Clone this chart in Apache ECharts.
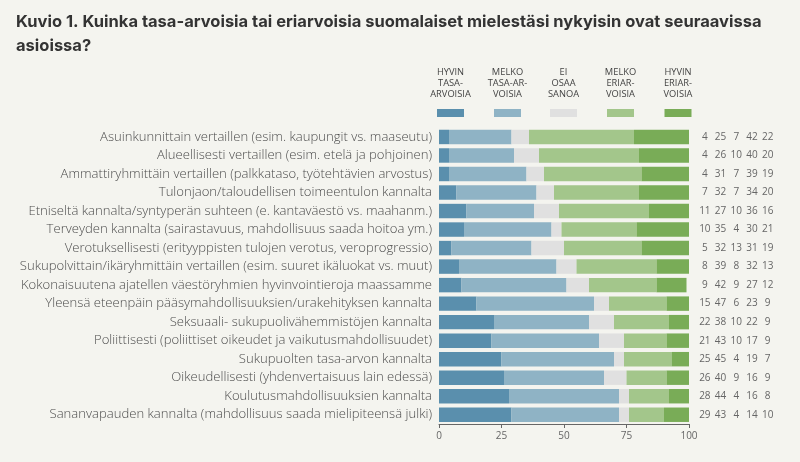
<!DOCTYPE html>
<html>
<head>
<meta charset="utf-8">
<script src="https://cdn.jsdelivr.net/npm/echarts@6/dist/echarts.min.js"></script>
<style>
  html, body { margin: 0; padding: 0; background: #f4f4ef; }
  #main { width: 800px; height: 462px; }
</style>
</head>
<body>
<div id="main"></div>
<script>
var categories = [
    'Asuinkunnittain vertaillen (esim. kaupungit vs. maaseutu)',
    'Alueellisesti vertaillen (esim. etelä ja pohjoinen)',
    'Ammattiryhmittäin vertaillen (palkkataso, työtehtävien arvostus)',
    'Tulonjaon/taloudellisen toimeentulon kannalta',
    'Etniseltä kannalta/syntyperän suhteen (e. kantaväestö vs. maahanm.)',
    'Terveyden kannalta (sairastavuus, mahdollisuus saada hoitoa ym.)',
    'Verotuksellisesti (erityyppisten tulojen verotus, veroprogressio)',
    'Sukupolvittain/ikäryhmittäin vertaillen (esim. suuret ikäluokat vs. muut)',
    'Kokonaisuutena ajatellen väestöryhmien hyvinvointieroja maassamme',
    'Yleensä eteenpäin pääsymahdollisuuksien/urakehityksen kannalta',
    'Seksuaali- sukupuolivähemmistöjen kannalta',
    'Poliittisesti (poliittiset oikeudet ja vaikutusmahdollisuudet)',
    'Sukupuolten tasa-arvon kannalta',
    'Oikeudellisesti (yhdenvertaisuus lain edessä)',
    'Koulutusmahdollisuuksien kannalta',
    'Sananvapauden kannalta (mahdollisuus saada mielipiteensä julki)'
];

var seriesNames = ['Hyvin tasa-arvoisia', 'Melko tasa-arvoisia', 'Ei osaa sanoa', 'Melko eriarvoisia', 'Hyvin eriarvoisia'];
var legendLabels = ['HYVIN\nTASA-\nARVOISIA', 'MELKO\nTASA-AR-\nVOISIA', 'EI\nOSAA\nSANOA', 'MELKO\nERIAR-\nVOISIA', 'HYVIN\nERIAR-\nVOISIA'];

var hyvinTasa  = [4, 4, 4, 7, 11, 10, 5, 8, 9, 15, 22, 21, 25, 26, 28, 29];
var melkoTasa  = [25, 26, 31, 32, 27, 35, 32, 39, 42, 47, 38, 43, 45, 40, 44, 43];
var eiOsaa     = [7, 10, 7, 7, 10, 4, 13, 8, 9, 6, 10, 10, 4, 9, 4, 4];
var melkoEri   = [42, 40, 39, 34, 36, 30, 31, 32, 27, 23, 22, 17, 19, 16, 16, 14];
var hyvinEri   = [22, 20, 19, 20, 16, 21, 19, 13, 12, 9, 9, 9, 7, 9, 8, 10];

var xTicks = [0, 25, 50, 75, 100];
var colors = ['#5a8fad', '#8fb3c5', '#e0e0e0', '#a3c68b', '#79ac57'];

var allSeries = [hyvinTasa, melkoTasa, eiOsaa, melkoEri, hyvinEri];

var chart = echarts.init(document.getElementById('main'));

// legend drawn by hand: text stacked above a small swatch
var legendX = [450.5, 507.5, 563.5, 620.5, 678];
var legendGraphics = [];
legendLabels.forEach(function (lab, i) {
    legendGraphics.push({
        type: 'text',
        x: legendX[i],
        y: 67,
        style: {
            text: lab,
            fill: '#444',
            font: '9.3px "Open Sans"',
            lineHeight: 11,
            align: 'center',
            verticalAlign: 'top'
        }
    });
    legendGraphics.push({
        type: 'rect',
        shape: { x: legendX[i] - 13.5, y: 109, width: 27, height: 8 },
        style: { fill: colors[i] }
    });
});

var rich = {};
for (var k = 0; k < 5; k++) {
    rich['c' + k] = { width: 15.7, align: 'center', fontSize: 10, color: '#666', fontFamily: 'Open Sans' };
}

var option = {
    backgroundColor: '#f4f4ef',
    animation: false,
    color: colors,
    title: {
        text: 'Kuvio 1. Kuinka tasa-arvoisia tai eriarvoisia suomalaiset mielestäsi nykyisin ovat seuraavissa\nasioissa?',
        left: 11,
        top: 5,
        textStyle: {
            fontFamily: 'Inter',
            fontWeight: 700,
            fontSize: 16.5,
            lineHeight: 24,
            color: '#333'
        }
    },
    graphic: legendGraphics,
    grid: {
        left: 439,
        right: 111,
        top: 127.7,
        bottom: 38
    },
    xAxis: {
        type: 'value',
        min: 0,
        max: 100,
        interval: 25,
        splitLine: { show: false },
        axisLine: { show: true, lineStyle: { color: '#666', width: 1 } },
        axisTick: { show: true, length: 4, lineStyle: { color: '#666' } },
        axisLabel: {
            color: '#666',
            fontSize: 10,
            fontFamily: 'Open Sans',
            margin: 7,
            formatter: function (v) { return xTicks.indexOf(v) >= 0 ? String(v) : ''; }
        }
    },
    yAxis: [
        {
            type: 'category',
            inverse: true,
            data: categories,
            axisLine: { show: false },
            axisTick: { show: false },
            axisLabel: {
                color: '#4d4d4d',
                fontSize: 13.1,
                fontWeight: 300,
                fontFamily: 'Open Sans',
                margin: 7
            }
        },
        {
            type: 'category',
            inverse: true,
            position: 'right',
            data: categories,
            axisLine: { show: false },
            axisTick: { show: false },
            axisLabel: {
                margin: 8,
                align: 'left',
                rich: rich,
                formatter: function (value, idx) {
                    return allSeries.map(function (s, j) {
                        return '{c' + j + '|' + s[idx] + '}';
                    }).join('');
                }
            }
        }
    ],
    series: allSeries.map(function (data, i) {
        return {
            name: seriesNames[i],
            type: 'bar',
            stack: 'total',
            barCategoryGap: '22%',
            itemStyle: { color: colors[i] },
            data: data
        };
    })
};

chart.setOption(option);
</script>
</body>
</html>
